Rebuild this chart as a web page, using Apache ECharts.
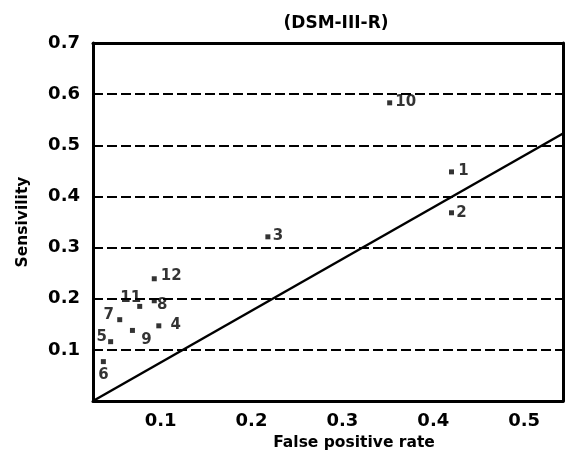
<!DOCTYPE html>
<html>
<head>
<meta charset="utf-8">
<script src="https://cdn.jsdelivr.net/npm/echarts@6/dist/echarts.min.js"></script>
<style>html,body{margin:0;padding:0;background:#fff}#c{width:568px;height:460px}</style>
</head>
<body>
<div id="c"></div>
<script>
// ---- data ----
var titleText = '(DSM-III-R)';
var xName = 'False positive rate';
var yName = 'Sensivility';
var pointNames = ['1', '2', '3', '4', '5', '6', '7', '8', '9', '10', '11', '12'];
var falsePositive = [0.420, 0.420, 0.218, 0.098, 0.045, 0.037, 0.055, 0.093, 0.069, 0.352, 0.077, 0.093];
var sensitivity  = [0.448, 0.368, 0.321, 0.147, 0.116, 0.077, 0.159, 0.196, 0.138, 0.583, 0.185, 0.239];
var lineX = [0.0256, 0.5427];
var lineY = [0, 0.523];
var xTicks = [0.1, 0.2, 0.3, 0.4, 0.5];
var xMin = 0.0256, xMax = 0.5427;
var yMin = 0, yMax = 0.7, yStep = 0.1;

// ---- label styling (offsets from point, px) ----
var labelOffsets = {
  '1': [12, -1], '2': [10, 0], '3': [10, -1], '4': [17, -1], '5': [-9, -5], '6': [0, 13],
  '7': [-11, -5], '8': [8, 4], '9': [14, 10], '10': [16, -1], '11': [-9, -8], '12': [17, -3]
};

var FONT = 'DejaVu Sans';
var pts = pointNames.map(function (n, i) {
  return {
    name: n,
    value: [falsePositive[i], sensitivity[i]],
    label: { offset: labelOffsets[n] }
  };
});

var chart = echarts.init(document.getElementById('c'), null, { renderer: 'canvas' });
chart.setOption({
  animation: false,
  backgroundColor: '#fff',
  title: {
    text: titleText, left: 331, top: 10, textAlign: 'center',
    textStyle: { fontFamily: FONT, fontSize: 17, fontWeight: 'bold', color: '#000' }
  },
  grid: { left: 93, right: 5, top: 43, bottom: 59, containLabel: false },
  xAxis: [{
    type: 'value', min: xMin, max: xMax, position: 'bottom',
    name: xName, nameLocation: 'middle', nameGap: 34,
    nameTextStyle: { fontFamily: FONT, fontSize: 15.5, fontWeight: 'bold', color: '#000', padding: [0, 0, 0, 52] },
    axisLine: { show: true, onZero: false, lineStyle: { color: '#000', width: 3 } },
    axisTick: { show: false },
    splitLine: { show: false },
    axisLabel: {
      customValues: xTicks, margin: 11,
      fontFamily: FONT, fontSize: 18, fontWeight: 'bold', color: '#000',
      formatter: function (v) { return v.toFixed(1); }
    }
  }, {
    type: 'value', min: xMin, max: xMax, position: 'top',
    axisLine: { show: true, onZero: false, lineStyle: { color: '#000', width: 3 } },
    axisTick: { show: false }, axisLabel: { show: false }, splitLine: { show: false }
  }],
  yAxis: [{
    type: 'value', min: yMin, max: yMax, interval: yStep, position: 'left',
    name: yName, nameLocation: 'middle', nameGap: 62,
    nameTextStyle: { fontFamily: FONT, fontSize: 15.5, fontWeight: 'bold', color: '#000' },
    axisLine: { show: true, onZero: false, lineStyle: { color: '#000', width: 3 } },
    axisTick: { show: false },
    splitLine: { show: true, showMinLine: false, showMaxLine: false, lineStyle: { color: '#000', width: 2.2, type: [10, 4] } },
    axisLabel: {
      margin: 13, fontFamily: FONT, fontSize: 18, fontWeight: 'bold', color: '#000',
      formatter: function (v) { return v === 0 ? '' : v.toFixed(1); }
    }
  }, {
    type: 'value', min: yMin, max: yMax, interval: yStep, position: 'right',
    axisLine: { show: true, onZero: false, lineStyle: { color: '#000', width: 3 } },
    axisTick: { show: false }, axisLabel: { show: false }, splitLine: { show: false }
  }],
  series: [{
    type: 'line',
    data: lineX.map(function (x, i) { return [x, lineY[i]]; }),
    showSymbol: false, symbol: 'none',
    lineStyle: { color: '#000', width: 2.5 },
    z: 3
  }, {
    type: 'scatter',
    data: pts,
    symbol: 'rect', symbolSize: 5,
    itemStyle: { color: '#000' },
    label: {
      show: true, position: 'inside',
      fontFamily: FONT, fontSize: 15, fontWeight: 'bold', color: '#000',
      formatter: function (p) { return p.name; }
    },
    z: 4
  }]
});
</script>
</body>
</html>
